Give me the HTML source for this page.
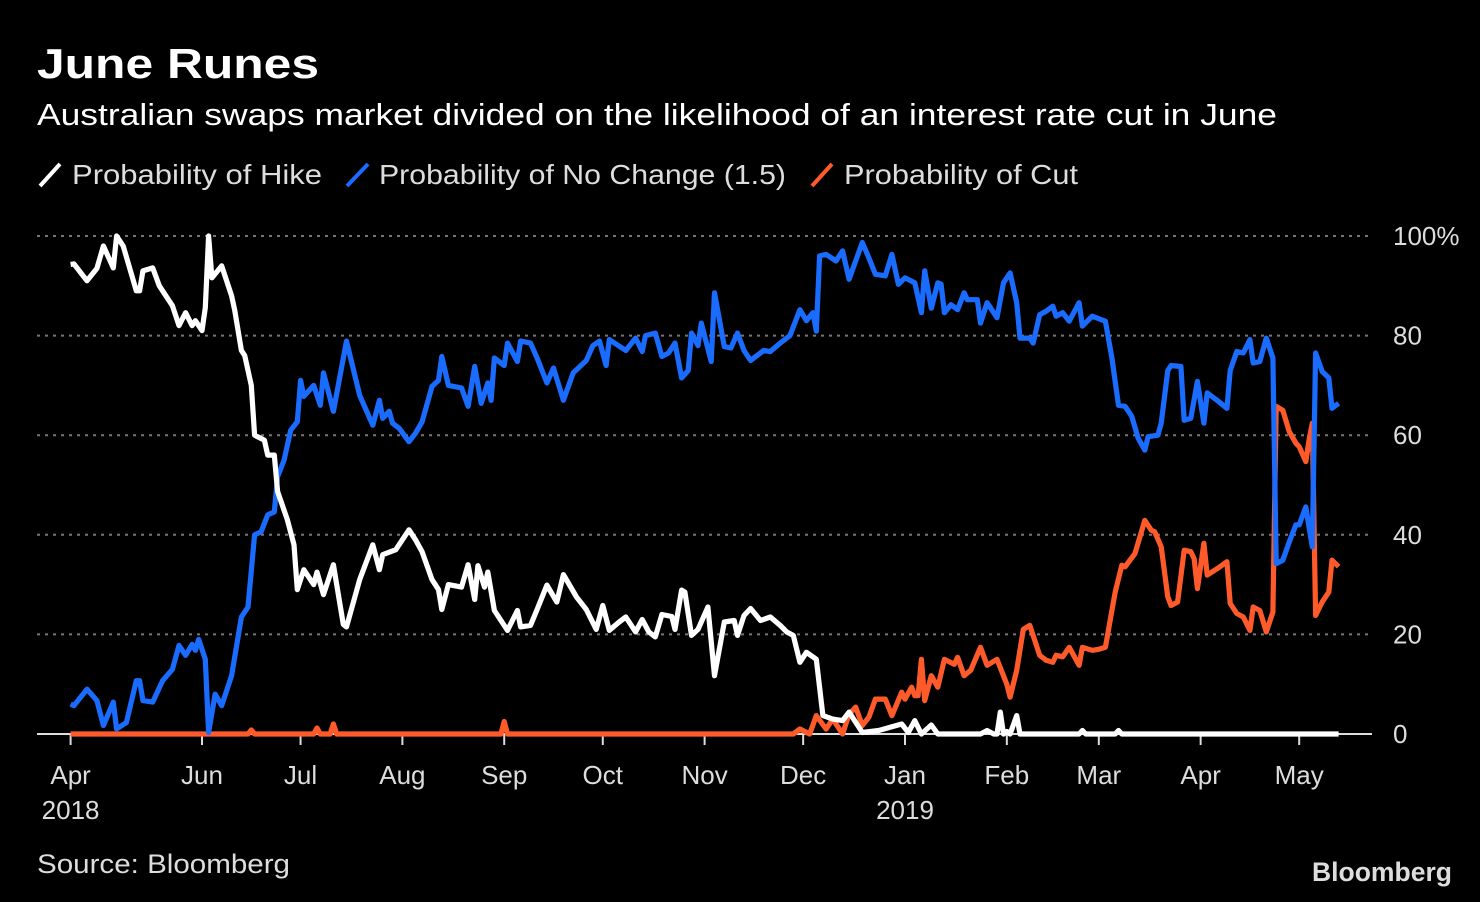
<!DOCTYPE html>
<html><head><meta charset="utf-8"><style>
html,body{margin:0;padding:0;background:#000;}
svg{display:block;}
text{font-family:"Liberation Sans",sans-serif;}
</style></head><body>
<svg id="chart" width="1480" height="902" viewBox="0 0 1480 902">
<rect x="0" y="0" width="1480" height="902" fill="#000"/>
<text x="37" y="78" font-size="42" font-weight="bold" fill="#fff" textLength="282" lengthAdjust="spacingAndGlyphs">June Runes</text>
<text x="37" y="125" font-size="31" fill="#fff" textLength="1240" lengthAdjust="spacingAndGlyphs">Australian swaps market divided on the likelihood of an interest rate cut in June</text>
<g>
 <g>
  <line x1="40" y1="186" x2="60" y2="164" stroke="#fff" stroke-width="4"/>
  <text x="72" y="184" font-size="28" fill="#ddd" textLength="250" lengthAdjust="spacingAndGlyphs">Probability of Hike</text>
 </g>
 <g>
  <line x1="347" y1="186" x2="368" y2="164" stroke="#1a6cff" stroke-width="4"/>
  <text x="379" y="184" font-size="28" fill="#ddd" textLength="407" lengthAdjust="spacingAndGlyphs">Probability of No Change (1.5)</text>
 </g>
 <g>
  <line x1="812" y1="186" x2="832" y2="164" stroke="#ff5a2a" stroke-width="4"/>
  <text x="844" y="184" font-size="28" fill="#ddd" textLength="234" lengthAdjust="spacingAndGlyphs">Probability of Cut</text>
 </g>
</g>
<g id="grid"></g>
<g id="yaxis"></g>
<g id="xaxis"></g>
<g id="series"></g>
<text x="37" y="873" font-size="27" fill="#ddd" textLength="253" lengthAdjust="spacingAndGlyphs">Source: Bloomberg</text>
<text x="1452" y="881" font-size="27" font-weight="bold" fill="#ddd" text-anchor="end" textLength="140" lengthAdjust="spacingAndGlyphs">Bloomberg</text>
</svg>
<script>
// days since 2018-04-01
const yTicks = [0, 20, 40, 60, 80, 100];
const yTickLabels = ["0", "20", "40", "60", "80", "100%"];
const monthDays = [21, 61, 91, 122, 153, 183, 214, 244, 275, 306, 334, 365, 395];
const monthLabels = ["Apr", "Jun", "Jul", "Aug", "Sep", "Oct", "Nov", "Dec", "Jan", "Feb", "Mar", "Apr", "May"];
const yearLabels = ["2018", "", "", "", "", "", "", "", "2019", "", "", "", ""];

const hikeDays = [21,22,26,29,31,34,35,37,41,42,43,46,48,52,54,56,58,59,61,62,63,64,67,70,71,73,74,76,77,80,81,83,84,87,89,90,92,95,96,98,101,104,105,109,113,115,116,120,124,126,128,131,133,134,136,140,142,144,145,147,148,150,154,157,158,161,163,166,169,171,175,178,181,183,185,188,190,193,195,197,199,201,204,205,207,208,210,212,215,217,220,223,224,226,228,231,234,237,239,241,243,245,248,250,253,256,258,262,267,274,276,278,280,283,285,298,300,302,303,304,305,306,307,309,310,328,329,330,339,340,341,407];
const hikeValues = [94.3,94.4,91,93.5,98,93.6,100,98,89,89,93,93.6,90,86,82,84.6,82,83,81,85.6,100,91.6,94,88,85,77,76,70,60,59,56,56,48.7,43,38,29,33,30,32.5,28,34,22,21.5,31,38,33,36,37,41,39,36.6,31,29,25,30,29.5,34,27,33.8,29.5,32.5,24.8,20.8,24.8,21.5,21.8,25,29.9,26.5,32,27.5,25,21,25.8,20.8,22.5,23.5,20.5,23,20.5,19.5,24,23.6,21,28.9,28.5,19.8,21,25.5,11.7,22.5,22.8,19.8,23.8,25.2,22.8,23.5,21.8,20.5,19.8,14.4,16.4,15,3.7,3,2.7,4.4,0.3,0.7,2,0.3,2.7,0,1.8,0,0,0.7,0,0,4.4,0,0.5,0,3.7,0,0,0.7,0,0,0.7,0,0];

const noChangeDays = [21,22,26,29,31,34,35,38,41,42,43,46,49,52,54,56,58,59,60,62,63,65,67,70,73,75,77,79,81,83,84,86,88,90,91,92,95,97,98,101,105,109,113,115,116,118,119,121,124,126,128,131,133,134,136,140,142,144,146,148,149,150,153,154,157,158,161,163,166,168,171,174,178,180,182,184,185,190,193,195,196,199,201,203,205,207,209,210,212,213,216,217,220,222,224,226,228,232,234,237,240,243,245,247,248,249,251,254,256,258,260,262,264,266,269,271,273,275,278,280,281,283,285,286,287,289,291,293,294,297,298,300,303,305,307,309,310,313,314,316,318,320,321,323,325,328,329,332,336,338,340,342,344,346,348,349,352,353,355,356,359,360,362,364,366,367,370,373,374,376,378,380,381,383,385,387,388,390,392,394,395,397,398,399,400,402,404,405,407];
const noChangeValues = [6,5.7,9,6.7,1.7,6.4,1,2.3,10.7,10.7,6.7,6.4,10.7,13,17.8,15.8,18,16.8,19,15,0.3,8,5.7,11.7,23.5,25.5,40,40.6,44,44.6,51.7,55,61,62.7,71,67.8,70,66,72.5,64.8,78.9,68,62,67,63.4,64.8,62.4,61.4,58.7,60.4,62.7,69.8,71,75.8,70,69.5,65.8,73.8,66.4,70.5,67,75.5,74,78.5,74.8,78.9,78.5,75.5,70.5,73.5,67,72.5,75,78,78.9,74,79.2,77,79.5,76.8,80,80.5,75.8,76.5,78.5,71.5,73,80.5,78,82.5,74.8,88.6,77.8,77.5,80.5,77,75,77,76.8,78.5,80,85.2,83,84.6,80.9,96,96.3,95,97,91.3,95,98.7,95.6,92.3,92,96.3,90.3,91.6,90.6,84.6,93,85.5,90.6,90.3,84.6,86.2,85.2,88.6,87.2,87.2,82.5,86.6,83.6,90.6,92.6,86.6,79.5,79.5,78.5,84.2,84.9,85.9,83.9,84.6,82.9,86.6,81.9,83.9,82.9,75.5,66,65.8,63.8,59.4,57,59.7,60,62.4,73,74,73.8,63,63.4,70.8,62.4,68.5,67,65.4,73,76.8,76.5,79.2,74.5,74.8,79.5,75.5,34.2,34.9,38.6,42,42,45.6,41.6,37.6,76.5,72.8,71.5,65.4,66.4];

const cutDays = [21,75,76,77,95,96,97,100,101,102,152,153,154,241,243,246,248,251,253,256,258,260,262,264,266,269,271,274,275,277,278,279,280,281,283,285,287,290,291,293,295,298,300,303,306,307,309,311,313,316,318,320,321,323,325,328,329,332,334,336,338,339,341,342,345,348,350,351,353,355,356,358,360,362,363,364,366,367,370,373,374,376,378,380,381,383,385,387,388,390,392,394,395,397,398,399,400,402,404,405,407];
const cutValues = [0,0,0.8,0,0,1.2,0,0,2,0,0,2.5,0,0,1,0,3.7,1,3,0,4,5.4,1.7,3.4,7,7,3.7,8.4,7,9.4,7.7,7.7,15,6.7,11.7,9.4,15,14,15.4,11.7,12.8,17.4,13.8,15,10,7.4,12.8,21,21.8,15.8,14.8,14.4,15.8,15.5,17.4,13.8,17.4,16.8,17,17.4,24.8,28.5,33.9,33.6,36.2,42.9,40.9,40.6,37.6,27.5,25.8,26.5,36.9,36.6,35.2,29.2,38.3,31.9,33.2,34.6,26.2,24.2,23.5,20.8,25.5,24.8,20.5,24.5,65.8,65,60.7,58.4,57.7,54.7,59,62.4,23.8,26.5,28.5,34.9,33.6];

const NS = "http://www.w3.org/2000/svg";
function xScale(d) { return 202 + (d - 61) * 3.285; }
function yScale(v) { return 734 - v * 4.98; }

const grid = document.getElementById('grid');
const yaxis = document.getElementById('yaxis');
yTicks.forEach((t, i) => {
  if (t > 0) {
    const l = document.createElementNS(NS, 'line');
    l.setAttribute('x1', 37); l.setAttribute('x2', 1372);
    l.setAttribute('y1', yScale(t)); l.setAttribute('y2', yScale(t));
    l.setAttribute('stroke', '#777'); l.setAttribute('stroke-width', '2');
    l.setAttribute('stroke-dasharray', '3,5');
    
    
    grid.appendChild(l);
  }
  const tx = document.createElementNS(NS, 'text');
  tx.setAttribute('x', 1393); tx.setAttribute('y', yScale(t) + 9);
  tx.setAttribute('font-size', '26'); tx.setAttribute('fill', '#ddd');
  tx.textContent = yTickLabels[i];
  
  
  yaxis.appendChild(tx);
});

const xaxis = document.getElementById('xaxis');
const base = document.createElementNS(NS, 'line');
base.setAttribute('x1', 37); base.setAttribute('x2', 1372);
base.setAttribute('y1', 734); base.setAttribute('y2', 734);
base.setAttribute('stroke', '#ddd'); base.setAttribute('stroke-width', '2');


xaxis.appendChild(base);
monthDays.forEach((d, i) => {
  const x = xScale(d);
  const tk = document.createElementNS(NS, 'line');
  tk.setAttribute('x1', x); tk.setAttribute('x2', x);
  tk.setAttribute('y1', 734); tk.setAttribute('y2', 745);
  tk.setAttribute('stroke', '#ddd'); tk.setAttribute('stroke-width', '2');
  
  
  xaxis.appendChild(tk);
  const tx = document.createElementNS(NS, 'text');
  tx.setAttribute('x', x); tx.setAttribute('y', 784);
  tx.setAttribute('font-size', '26'); tx.setAttribute('fill', '#ddd');
  tx.setAttribute('text-anchor', 'middle');
  tx.textContent = monthLabels[i];
  
  
  xaxis.appendChild(tx);
  if (yearLabels[i]) {
    const ty = document.createElementNS(NS, 'text');
    ty.setAttribute('x', x); ty.setAttribute('y', 819);
    ty.setAttribute('font-size', '26'); ty.setAttribute('fill', '#ddd');
    ty.setAttribute('text-anchor', 'middle');
    ty.textContent = yearLabels[i];
    
    
    xaxis.appendChild(ty);
  }
});

const series = document.getElementById('series');
function drawLine(days, vals, color, name) {
  const p = document.createElementNS(NS, 'path');
  let d = '';
  days.forEach((dd, i) => { d += (i ? 'L' : 'M') + xScale(dd).toFixed(1) + ',' + yScale(vals[i]).toFixed(1); });
  p.setAttribute('d', d);
  p.setAttribute('fill', 'none'); p.setAttribute('stroke', color);
  p.setAttribute('stroke-width', '5.2'); p.setAttribute('stroke-linejoin', 'round');
  
  
  series.appendChild(p);
}
drawLine(cutDays, cutValues, '#ff5a2a', 'line-probability-of-cut');
drawLine(noChangeDays, noChangeValues, '#1a6cff', 'line-probability-of-no-change');
drawLine(hikeDays, hikeValues, '#ffffff', 'line-probability-of-hike');
</script>
</body></html>
